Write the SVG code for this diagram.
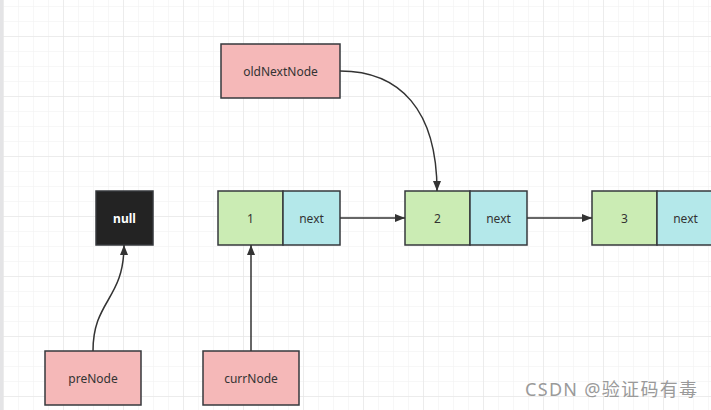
<svg xmlns="http://www.w3.org/2000/svg" width="711" height="410" viewBox="0 0 711 410">
<defs>
<pattern id="minor" x="3" y="6" width="15" height="15" patternUnits="userSpaceOnUse">
<path d="M0 0H15M0 0V15" fill="none" stroke="#efefef" stroke-width="1"/>
</pattern>
<pattern id="major" x="3" y="36" width="60" height="60" patternUnits="userSpaceOnUse">
<path d="M0 0H60M0 0V60" fill="none" stroke="#e2e2e2" stroke-width="1"/>
</pattern>
<marker id="arr" viewBox="0 0 10 10" refX="10" refY="5" markerWidth="10" markerHeight="10" markerUnits="userSpaceOnUse" orient="auto">
<path d="M0 1L10 5L0 9Z" fill="#333"/>
</marker>
</defs>
<style>
.box{stroke:#36393d;stroke-width:1.5}
.pink{fill:#f5b8b8}
.green{fill:#cbecb4}
.cyan{fill:#b4e8ea}
.t{font-family:"Noto Sans","Liberation Sans",sans-serif;font-size:12px;fill:#333;text-anchor:middle;dominant-baseline:central}
.edge{fill:none;stroke:#333;stroke-width:1.5;marker-end:url(#arr)}
</style>
<rect width="711" height="410" fill="#fff"/>
<rect width="711" height="410" fill="url(#minor)"/>
<rect width="711" height="410" fill="url(#major)"/>
<rect x="0" y="0" width="3" height="410" fill="#e4e4e6"/>
<g id="oldNextNode"><rect class="box pink" x="221" y="44" width="119" height="54"/><text class="t" x="280.5" y="71">oldNextNode</text></g>
<g id="null"><rect class="box" fill="#232323" x="96" y="191" width="57" height="54"/><text class="t" x="124.5" y="218" style="fill:#fff;font-weight:bold">null</text></g>
<g id="node1"><rect class="box green" x="218" y="191" width="65" height="54"/><rect class="box cyan" x="283" y="191" width="57" height="54"/><text class="t" x="250.5" y="218">1</text><text class="t" x="311.5" y="218">next</text></g>
<g id="node2"><rect class="box green" x="405" y="191" width="65" height="54"/><rect class="box cyan" x="470" y="191" width="57" height="54"/><text class="t" x="437.5" y="218">2</text><text class="t" x="498.5" y="218">next</text></g>
<g id="node3"><rect class="box green" x="592" y="191" width="65" height="54"/><rect class="box cyan" x="657" y="191" width="57" height="54"/><text class="t" x="624.5" y="218">3</text><text class="t" x="685.5" y="218">next</text></g>
<g id="preNode"><rect class="box pink" x="45" y="351" width="96" height="54"/><text class="t" x="93" y="378">preNode</text></g>
<g id="currNode"><rect class="box pink" x="203" y="351" width="96" height="54"/><text class="t" x="251" y="378">currNode</text></g>
<g id="connectors">
<path class="edge" d="M93 351C93 300 124 300 124 245"/>
<path class="edge" d="M251 351V245"/>
<path class="edge" d="M340 71C400 71 437 110 437 191"/>
<path class="edge" d="M340 218H405"/>
<path class="edge" d="M527 218H592"/>
</g>
<text x="697" y="396" textLength="172" style="font-family:'Noto Sans','Noto Sans CJK SC',sans-serif;font-size:18px;fill:#9a9a9a;text-anchor:end">CSDN @验证码有毒</text>
</svg>
